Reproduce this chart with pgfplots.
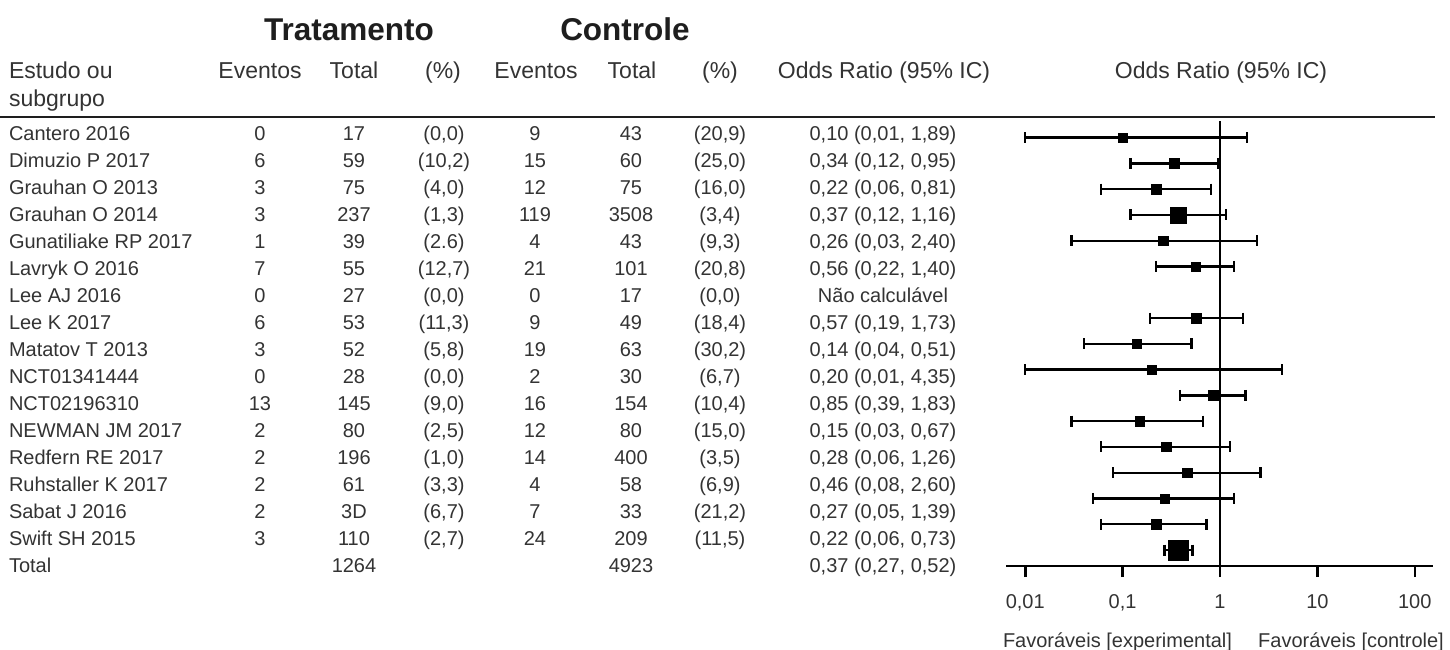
\documentclass[border=0pt]{standalone}
\usepackage{pgfplots}
\usepackage{pgfplotstable}
\pgfplotsset{compat=1.18}
\usepackage{fontspec}
\setmainfont{Liberation Sans}
\definecolor{txt}{HTML}{333333}
\definecolor{hdr}{HTML}{1E1E1E}

% point estimates (r = 18 - row number)
\pgfplotstableread{
r or
17 0.10
16 0.34
15 0.22
13 0.26
12 0.56
10 0.57
9 0.14
8 0.20
7 0.85
6 0.15
5 0.28
4 0.46
3 0.27
2 0.22
}\studies
\pgfplotstableread{
r or
14 0.37
}\bigstudy
\pgfplotstableread{
r or
1 0.37
}\pooled
% 95% CI segments
\pgfplotstableread{
x y
0.01 17
1.89 17
nan nan
0.12 16
0.95 16
nan nan
0.06 15
0.81 15
nan nan
0.12 14
1.16 14
nan nan
0.03 13
2.40 13
nan nan
0.22 12
1.40 12
nan nan
0.19 10
1.73 10
nan nan
0.04 9
0.51 9
nan nan
0.01 8
4.35 8
nan nan
0.39 7
1.83 7
nan nan
0.03 6
0.67 6
nan nan
0.06 5
1.26 5
nan nan
0.08 4
2.60 4
nan nan
0.05 3
1.39 3
nan nan
0.06 2
0.73 2
nan nan
0.27 1
0.52 1
}\cis

\newcommand\body{\fontsize{20bp}{24bp}\selectfont}
\newcommand\head{\fontsize{23bp}{27bp}\selectfont}
\newcommand\row[9]{%
  \pgfmathsetmacro\yy{133+27*(#1-1)+7.2}%
  \node[anchor=base west] at (9,\yy) {#2};
  \node[anchor=base] at (260,\yy) {#3};
  \node[anchor=base] at (354,\yy) {#4};
  \node[anchor=base] at (444,\yy) {#5};
  \node[anchor=base] at (535,\yy) {#6};
  \node[anchor=base] at (631,\yy) {#7};
  \node[anchor=base] at (720,\yy) {#8};
  \node[anchor=base] at (883,\yy) {#9};
}

\begin{document}
\begin{tikzpicture}
\useasboundingbox (0,0) rectangle (1450bp,-650bp);
\begin{scope}[x=1bp,y=-1bp,every node/.style={text=txt,inner sep=0pt,outer sep=0pt}]
  % group titles
  \node[anchor=base,text=hdr,font=\fontsize{31.5bp}{36bp}\selectfont\bfseries] at (349,40) {Tratamento};
  \node[anchor=base,text=hdr,font=\fontsize{31.5bp}{36bp}\selectfont\bfseries] at (625,40) {Controle};
  % column headers
  \begin{scope}[every node/.append style={font=\head}]
    \node[anchor=base west] at (9,78) {Estudo ou};
    \node[anchor=base west] at (9,106) {subgrupo};
    \node[anchor=base] at (260,78) {Eventos};
    \node[anchor=base] at (354,78) {Total};
    \node[anchor=base] at (443,78) {(\%)};
    \node[anchor=base] at (536,78) {Eventos};
    \node[anchor=base] at (632,78) {Total};
    \node[anchor=base] at (720,78) {(\%)};
    \node[anchor=base] at (884,78) {Odds Ratio (95\% IC)};
    \node[anchor=base] at (1221,78) {Odds Ratio (95\% IC)};
  \end{scope}
  \draw[line width=2.6bp,color=hdr] (0,117) -- (1435,117);
  % table body
  \begin{scope}[every node/.append style={font=\body}]
    \row{1}{Cantero 2016}{0}{17}{(0,0)}{9}{43}{(20,9)}{0,10 (0,01, 1,89)}
    \row{2}{Dimuzio P 2017}{6}{59}{(10,2)}{15}{60}{(25,0)}{0,34 (0,12, 0,95)}
    \row{3}{Grauhan O 2013}{3}{75}{(4,0)}{12}{75}{(16,0)}{0,22 (0,06, 0,81)}
    \row{4}{Grauhan O 2014}{3}{237}{(1,3)}{119}{3508}{(3,4)}{0,37 (0,12, 1,16)}
    \row{5}{Gunatiliake RP 2017}{1}{39}{(2.6)}{4}{43}{(9,3)}{0,26 (0,03, 2,40)}
    \row{6}{Lavryk O 2016}{7}{55}{(12,7)}{21}{101}{(20,8)}{0,56 (0,22, 1,40)}
    \row{7}{Lee AJ 2016}{0}{27}{(0,0)}{0}{17}{(0,0)}{Não calculável}
    \row{8}{Lee K 2017}{6}{53}{(11,3)}{9}{49}{(18,4)}{0,57 (0,19, 1,73)}
    \row{9}{Matatov T 2013}{3}{52}{(5,8)}{19}{63}{(30,2)}{0,14 (0,04, 0,51)}
    \row{10}{NCT01341444}{0}{28}{(0,0)}{2}{30}{(6,7)}{0,20 (0,01, 4,35)}
    \row{11}{NCT02196310}{13}{145}{(9,0)}{16}{154}{(10,4)}{0,85 (0,39, 1,83)}
    \row{12}{NEWMAN JM 2017}{2}{80}{(2,5)}{12}{80}{(15,0)}{0,15 (0,03, 0,67)}
    \row{13}{Redfern RE 2017}{2}{196}{(1,0)}{14}{400}{(3,5)}{0,28 (0,06, 1,26)}
    \row{14}{Ruhstaller K 2017}{2}{61}{(3,3)}{4}{58}{(6,9)}{0,46 (0,08, 2,60)}
    \row{15}{Sabat J 2016}{2}{3D}{(6,7)}{7}{33}{(21,2)}{0,27 (0,05, 1,39)}
    \row{16}{Swift SH 2015}{3}{110}{(2,7)}{24}{209}{(11,5)}{0,22 (0,06, 0,73)}
    \row{17}{Total}{}{1264}{}{}{4923}{}{0,37 (0,27, 0,52)}
    \node[anchor=base] at (1117.5,647) {Favoráveis [experimental]};
    \node[anchor=base] at (1351,647) {Favoráveis [controle]};
  \end{scope}
\end{scope}

\begin{axis}[
  at={(1006bp,-566bp)}, anchor=south west,
  scale only axis, width=427.3bp, height=449bp,
  xmode=log, xmin=0.00635, xmax=154.9,
  ymin=0.38, ymax=17.80,
  axis x line*=bottom, axis y line=none,
  x axis line style={line width=2.6bp, black},
  xtick={0.01,0.1,1,10,100},
  xticklabels={{0,01},{0,1},{1},{10},{100}},
  xminorticks=false, ytick=\empty,
  tick align=outside, major tick length=11bp,
  every major tick/.append style={line width=2.6bp, black},
  xticklabel style={font=\body, text=txt, anchor=base, yshift=-31.7bp},
  unbounded coords=jump,
  clip=false,
]
\addplot[black, line width=2.6bp, forget plot] coordinates {(1,0.38) (1,17.65)};
\addplot[black, line width=2.4bp, mark=|, mark size=5.5bp,
  mark options={line width=2.4bp, solid}] table[x=x, y=y] {\cis};
\addplot[only marks, black, mark=square*, mark size=4.75bp] table[x=or, y=r] {\studies};
\addplot[only marks, black, mark=square*, mark size=7.85bp] table[x=or, y=r] {\bigstudy};
\addplot[only marks, black, mark=square*, mark size=9.8bp] table[x=or, y=r] {\pooled};
\end{axis}
\end{tikzpicture}
\end{document}
